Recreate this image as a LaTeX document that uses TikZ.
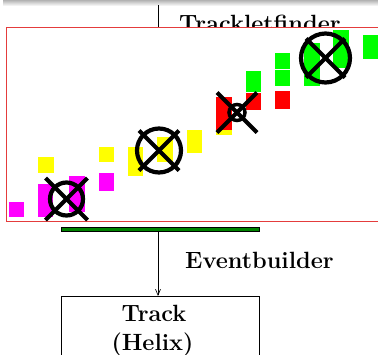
\documentclass[tikz,border=0pt]{standalone}
\usepackage{fontspec}
\setmainfont{Latin Modern Roman}
\usetikzlibrary{arrows.meta,calc}
\definecolor{hitmag}{RGB}{255,0,255}
\definecolor{hityel}{RGB}{255,255,0}
\definecolor{hitred}{RGB}{255,0,0}
\definecolor{hitgrn}{RGB}{0,255,0}
\definecolor{framered}{RGB}{228,60,60}
\definecolor{bargreen}{RGB}{0,130,0}
\newcommand\stagefont{\bfseries\fontsize{23.5pt}{26pt}\selectfont}
\tikzset{
  lbl/.style={inner sep=0pt, font=\stagefont},
  marker/.style={line width=4.2pt, black}
}
\begin{document}
\begin{tikzpicture}[x=1pt, y=-1pt]
  \useasboundingbox (0,0) rectangle (378,354);
  \clip (0,0) rectangle (378,354);
  % shadow of the stage above
  \shade[top color=black!30, bottom color=white] (3,0) rectangle (378,6);
  % incoming line and stage label (partly hidden by the frame)
  \coordinate (top) at (158,5);
  \node[lbl, anchor=base west] (tlf) at (179,31.5) {Trackletfinder};
  % detector frame
  \node[draw=framered, fill=white, line width=1pt, minimum width=380pt,
        minimum height=194pt, anchor=north west, inner sep=0pt] (frame) at (6,27) {};
  \draw (top) -- (top |- frame.north);
  % hits
  \fill[hitmag] (9,202) rectangle (24,217);
  \fill[hityel] (38,157) rectangle (54,173);
  \fill[hitmag] (38,184) rectangle (53,217);
  \fill[hitmag] (69,176) rectangle (85,212);
  \fill[hityel] (99,147) rectangle (114,162);
  \fill[hitmag] (99,173) rectangle (114,191);
  \fill[hityel] (128,147) rectangle (143,176);
  \fill[hityel] (157,137) rectangle (173,162);
  \fill[hityel] (187,130) rectangle (202,153);
  \fill[hityel] (216,118) rectangle (232,135);
  \fill[hitred] (216,97) rectangle (232,130);
  \fill[hitgrn] (246,71) rectangle (261,92);
  \fill[hitred] (246,93) rectangle (261,110);
  \fill[hitgrn] (275,53) rectangle (290,69);
  \fill[hitgrn] (275,70) rectangle (290,86);
  \fill[hitred] (275,91) rectangle (290,109);
  \fill[hitgrn] (304,43) rectangle (320,86);
  \fill[hitgrn] (333,30) rectangle (349,68);
  \fill[hitgrn] (363,35) rectangle (380,59);
  % found tracklets
  \coordinate (m1) at (66.5,199);
  \draw[marker] (m1) circle (16.5);
  \draw[marker] ($(m1)+(-21,-21)$) -- ($(m1)+(21,21)$);
  \draw[marker] ($(m1)+(21,-21)$) -- ($(m1)+(-21,21)$);
  \coordinate (m2) at (159,150.5);
  \draw[marker] (m2) circle (22);
  \draw[marker] ($(m2)+(-20,-20)$) -- ($(m2)+(20,20)$);
  \draw[marker] ($(m2)+(20,-20)$) -- ($(m2)+(-20,20)$);
  \coordinate (m3) at (237,112.5);
  \draw[marker, line width=3.5pt] (m3) circle (8);
  \draw[marker] ($(m3)+(-20,-20)$) -- ($(m3)+(20,20)$);
  \draw[marker] ($(m3)+(20,-20)$) -- ($(m3)+(-20,20)$);
  \coordinate (m4) at (325.5,58);
  \draw[marker] (m4) circle (24.5);
  \draw[marker] ($(m4)+(-19.5,-19.5)$) -- ($(m4)+(19.5,19.5)$);
  \draw[marker] ($(m4)+(19.5,-19.5)$) -- ($(m4)+(-19.5,19.5)$);
  % event builder
  \node[draw=black, fill=bargreen, line width=0.5pt, minimum width=198pt,
        minimum height=4pt, inner sep=0pt] (bar) at (160,229) {};
  \node[draw=black, line width=0.6pt, minimum width=198pt, minimum height=80pt,
        anchor=north, inner sep=0pt] (track) at (160,296) {};
  \draw[-{Straight Barb[length=6pt,width=5pt]}, line width=0.6pt]
    ([xshift=-2pt]bar.south) -- ([xshift=-2pt]track.north);
  \node[lbl, anchor=base west] (evb) at (185,268) {Eventbuilder};
  \node[lbl, anchor=base] (trk) at (154,321) {Track};
  \node[lbl, anchor=base] (hlx) at (152.5,350) {(Helix)};
\end{tikzpicture}
\end{document}
